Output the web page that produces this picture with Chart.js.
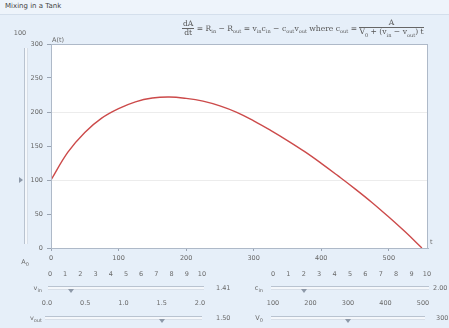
<!DOCTYPE html>
<html>
<head>
<meta charset="utf-8">
<script src="https://cdn.jsdelivr.net/npm/chart.js@4.4.0/dist/chart.umd.min.js"></script>
<style>
  html, body { margin:0; padding:0; }
  body { width:449px; height:328px; overflow:hidden; background:#e6eff9; font-family:"DejaVu Sans", sans-serif; color:#555; position:relative; }
  #titlebar { position:absolute; left:0; top:0; width:449px; height:14px; background:#eef4fb; border-bottom:1px solid #d4dfec; }
  #title { position:absolute; left:5px; top:2px; font-size:7px; color:#444; }
  #chartwrap { position:absolute; left:0; top:36px; width:449px; height:230px; }
  #controls { position:absolute; left:0; top:0; width:449px; height:328px; will-change:transform; }
  .t { position:absolute; font-size:6.5px; color:#6a6a6a; white-space:nowrap; line-height:1; }
  .track { position:absolute; height:2px; border-top:1px solid #b9c3d0; border-bottom:1px solid #d8dfe8; background:#f4f7fb; }
  .vtrack { position:absolute; width:2px; border-left:1px solid #b9c3d0; border-right:1px solid #d8dfe8; background:#f4f7fb; }
  .thumb { position:absolute; width:0; height:0; border-left:3px solid transparent; border-right:3px solid transparent; border-top:4px solid #8d98a8; }
  .vthumb { position:absolute; width:0; height:0; border-top:3px solid transparent; border-bottom:3px solid transparent; border-left:4px solid #8d98a8; }
  #eq { position:absolute; left:182px; top:19px; font-size:7.6px; color:#555; white-space:nowrap; font-family:"DejaVu Serif", serif; will-change:transform; }
  .frac { display:inline-block; vertical-align:middle; text-align:center; }
  .frac > span { display:block; line-height:1.1; }
  .frac > span.num { border-bottom:1px solid #666; padding:0 1px; }
  sub { font-size:5px; }
</style>
</head>
<body>
<div id="titlebar"><div id="title">Mixing in a Tank</div></div>
<div id="eq"><span class="frac"><span class="num">dA</span><span>dt</span></span> = R<sub>in</sub> − R<sub>out</sub> = v<sub>in</sub>c<sub>in</sub> − c<sub>out</sub>v<sub>out</sub> where c<sub>out</sub> = <span class="frac"><span class="num">A</span><span>V<sub>0</sub> + (v<sub>in</sub> − v<sub>out</sub>) t</span></span></div>
<div id="chartwrap"><canvas id="c" width="449" height="230"></canvas></div>
<div id="controls"></div>
<script>
// ---- data ----
const timeValues   = [0, 25, 50, 75, 100, 125, 150, 175, 200, 225, 250, 275, 300, 325, 350, 375, 400, 425, 450, 475, 500, 525, 549];
const amountValues = [100, 141, 170, 191, 205, 215, 220.5, 222, 220, 216, 209, 199.5, 187, 173, 158, 142, 124.5, 106, 87, 67, 45.5, 23, 0];
const xTickValues  = [0, 100, 200, 300, 400, 500];
const yTickValues  = [0, 50, 100, 150, 200, 250, 300];
const yGridValues  = [100, 200];
const sliderTicksVin  = ["0","1","2","3","4","5","6","7","8","9","10"];
const sliderTicksCin  = ["0","1","2","3","4","5","6","7","8","9","10"];
const sliderTicksVout = ["0.0","0.5","1.0","1.5","2.0"];
const sliderTicksV0   = ["100","200","300","400","500"];
const sliderValues = { vin: 1.41, cin: 2.00, vout: 1.50, V0: 300, A0: 100 };

const frame = {
  id:'frame',
  beforeDraw(ch){ const a=ch.chartArea, c=ch.ctx; c.save(); c.fillStyle='#ffffff'; c.fillRect(a.left,a.top,a.right-a.left,a.bottom-a.top); c.restore(); },
  afterDraw(ch){ const a=ch.chartArea, c=ch.ctx; c.save(); c.strokeStyle='#aeb9c8'; c.lineWidth=1; c.strokeRect(a.left+0.5,a.top+0.5,a.right-a.left-1,a.bottom-a.top); c.restore(); }
};

new Chart(document.getElementById('c'), {
  type:'line',
  data:{ datasets:[{ data: timeValues.map((t,i)=>({x:t,y:amountValues[i]})), borderColor:'#cc4a4a', borderWidth:1.4, pointRadius:0, tension:0.4, fill:false }] },
  options:{
    responsive:false, animation:false,
    layout:{ padding:{ left:0, right:21, top:8, bottom:0 } },
    plugins:{ legend:{display:false}, tooltip:{enabled:false} },
    scales:{
      x:{ type:'linear', min:0, max:558,
        afterBuildTicks:s=>{ s.ticks = xTickValues.map(v=>({value:v})); },
        afterFit:s=>{ s.height = 18; },
        grid:{ drawOnChartArea:false, tickLength:3, tickColor:'#9aa4b2' },
        border:{ color:'#aeb9c8' },
        ticks:{ font:{ size:6.5, family:'DejaVu Sans' }, color:'#666', padding:3, maxRotation:0 } },
      y:{ type:'linear', min:0, max:300,
        afterBuildTicks:s=>{ s.ticks = yTickValues.map(v=>({value:v})); },
        afterFit:s=>{ s.width = 51; },
        grid:{ color:ctx=> (ctx.tick && yGridValues.includes(ctx.tick.value)) ? '#ececec' : 'rgba(0,0,0,0)', tickLength:4, tickColor:'#9aa4b2' },
        border:{ color:'#aeb9c8' },
        ticks:{ font:{ size:6.5, family:'DejaVu Sans' }, color:'#666', padding:4 } }
    }
  },
  plugins:[frame]
});

// ---- controls (HTML) ----
const ctl = document.getElementById('controls');
function txt(s, x, y, align){ const d=document.createElement('div'); d.className='t'; d.innerHTML=s; d.style.top=(y-3)+'px';
  if(align==='right'){ d.style.right=(449-x)+'px'; } else if(align==='center'){ d.style.left=(x-20)+'px'; d.style.width='40px'; d.style.textAlign='center'; } else { d.style.left=x+'px'; }
  ctl.appendChild(d); }
function slider(x0, x1, y, ticks, tickY, frac, label, labelX, value, valueX){
  ticks.forEach((s,i)=>{ const x = x0 + (x1-x0)*i/(ticks.length-1); txt(s, x, tickY, 'center'); });
  const tr=document.createElement('div'); tr.className='track'; tr.style.left=(x0-2)+'px'; tr.style.width=(x1-x0+4)+'px'; tr.style.top=(y-2)+'px'; ctl.appendChild(tr);
  const th=document.createElement('div'); th.className='thumb'; th.style.left=(x0+(x1-x0)*frac-3)+'px'; th.style.top=(y+1)+'px'; ctl.appendChild(th);
  txt(label, labelX, y, 'right');
  txt(value, valueX, y, 'left');
}
slider(50, 202, 288, sliderTicksVin, 274, sliderValues.vin/10, 'v<sub>in</sub>', 42, sliderValues.vin.toFixed(2), 216);
slider(273, 427, 288, sliderTicksCin, 274, sliderValues.cin/10, 'c<sub>in</sub>', 263, sliderValues.cin.toFixed(2), 433);
slider(47, 200, 318, sliderTicksVout, 303, sliderValues.vout/2, 'v<sub>out</sub>', 42, sliderValues.vout.toFixed(2), 216);
slider(273, 423, 318, sliderTicksV0, 303, (sliderValues.V0-100)/400, 'V<sub>0</sub>', 263, String(sliderValues.V0), 436);

// vertical slider for A0 aligned with y axis
const vt=document.createElement('div'); vt.className='vtrack'; vt.style.left='24px'; vt.style.top='48px'; vt.style.height='196px'; ctl.appendChild(vt);
const vth=document.createElement('div'); vth.className='vthumb'; vth.style.left='19px'; vth.style.top=(248-204*sliderValues.A0/300-3)+'px'; ctl.appendChild(vth);
txt(String(sliderValues.A0), 20, 33, 'center');
txt('A<sub>0</sub>', 25, 262, 'center');
txt('A(t)', 52, 40, 'left');
txt('t', 430, 242, 'left');
</script>
</body>
</html>
